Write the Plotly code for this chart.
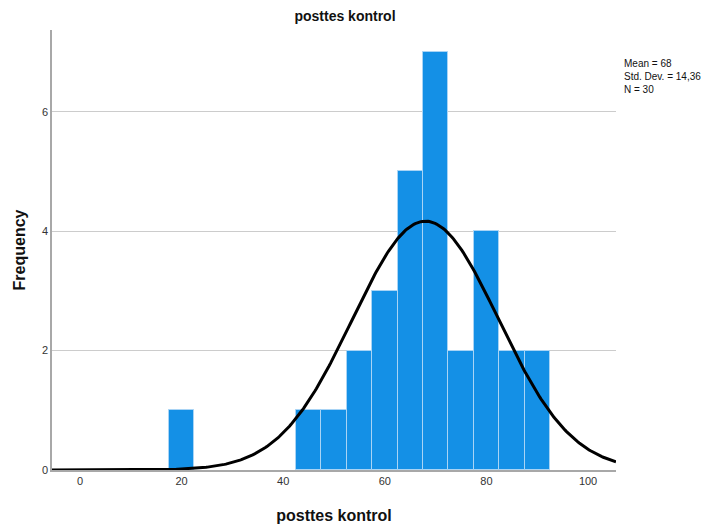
import numpy as np
import plotly.graph_objects as go

bin_centers = [20, 45, 50, 55, 60, 65, 70, 75, 80, 85, 90]
frequencies = [1, 1, 1, 2, 3, 5, 7, 2, 4, 2, 2]
bin_width = 5
mean_val = 68
std_val = 14.36
n_val = 30
x_ticks = [0, 20, 40, 60, 80, 100]
y_ticks = [0, 2, 4, 6]

xs = np.linspace(-5.5, 105.5, 400)
ys = n_val * bin_width / (std_val * np.sqrt(2 * np.pi)) * np.exp(-0.5 * ((xs - mean_val) / std_val) ** 2)

L, R, T, B = 52, 88, 30, 56
W, H = 704, 526
pw = W - L - R
ph = H - T - B

fig = go.Figure()
fig.add_trace(go.Bar(
    x=bin_centers, y=frequencies, width=[bin_width] * len(bin_centers),
    marker=dict(color="#1490E6", line=dict(color="#A9D4F5", width=1)),
    hoverinfo="skip",
))
fig.add_trace(go.Scatter(x=xs, y=ys, mode="lines", line=dict(color="black", width=3), hoverinfo="skip"))

fig.update_layout(
    width=W, height=H,
    margin=dict(l=L, r=R, t=T, b=B, autoexpand=False),
    paper_bgcolor="white", plot_bgcolor="white",
    showlegend=False, bargap=0,
    font=dict(family="Liberation Sans, Arial, sans-serif", color="#222"),
    title=dict(text="<b>posttes kontrol</b>", x=345 / W, xref="container", y=1 - 16 / H, yref="container",
               xanchor="center", yanchor="middle", font=dict(size=14, color="#111")),
    xaxis=dict(range=[-5.5, 105.5], tickvals=x_ticks, showgrid=False, zeroline=False, automargin=False,
               showline=True, linecolor="#A8A8A8", linewidth=1.5, ticks="",
               tickfont=dict(size=11, color="#333"),
               title=dict(text="<b>posttes kontrol</b>", font=dict(size=16, color="#111"), standoff=24)),
    yaxis=dict(range=[0, 7.37], tickvals=y_ticks, showgrid=True, gridcolor="#CCCCCC", gridwidth=1.2,
               zeroline=False, showline=True, linecolor="#A8A8A8", linewidth=1.5, ticks="", automargin=False,
               tickfont=dict(size=11, color="#333"),
               title=dict(text="<b>Frequency</b>", font=dict(size=16, color="#111"), standoff=12)),
    annotations=[dict(x=(622 - L) / pw, y=(H - B - 56) / ph, xref="paper", yref="paper", showarrow=False,
                      text="Mean = 68<br>Std. Dev. = 14,36<br>N = 30",
                      xanchor="left", yanchor="top", align="left",
                      font=dict(size=10, color="#111"))],
)

fig.write_html("out.html", config={"displayModeBar": False},
               post_script="document.body.style.margin='0';")
